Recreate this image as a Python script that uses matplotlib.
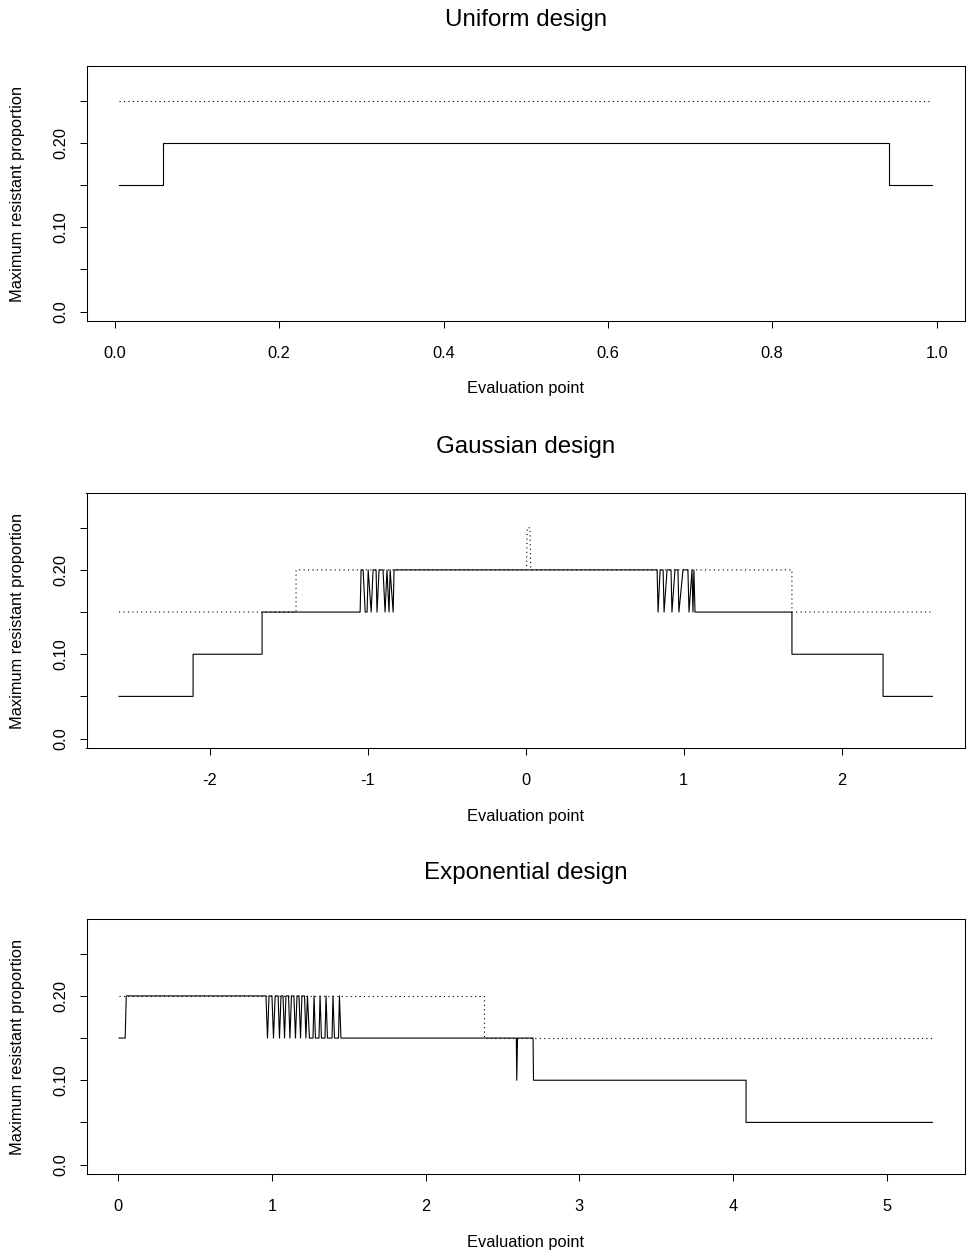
import matplotlib
matplotlib.use("Agg")
import matplotlib.pyplot as plt
import numpy as np

plt.rcParams['font.family'] = ['Liberation Sans', 'DejaVu Sans']
plt.rcParams['axes.unicode_minus'] = False

# ---- data: evaluation points (x) and maximum resistant proportion (y) ----
# Uniform design
unif_solid_x = [0.005, 0.059, 0.059, 0.942, 0.942, 0.995]
unif_solid_y = [0.15, 0.15, 0.20, 0.20, 0.15, 0.15]
unif_dot_x = [0.005, 0.995]
unif_dot_y = [0.25, 0.25]

# Gaussian design
gaus_solid_x = [-2.576, -2.107, -2.107, -1.670, -1.670, -1.049,
                -1.043, -1.030, -1.017, -1.005, -0.998, -0.979, -0.967, -0.948,
                -0.942, -0.929, -0.904, -0.891, -0.879, -0.866, -0.859, -0.840,
                -0.834,
                0.832, 0.838, 0.851, 0.870, 0.876, 0.895, 0.920, 0.926, 0.945,
                0.964, 0.970, 0.996, 1.027, 1.034, 1.053, 1.059, 1.065, 1.072,
                1.686, 1.686, 2.263, 2.263, 2.576]
gaus_solid_y = [0.05, 0.05, 0.10, 0.10, 0.15, 0.15,
                0.20, 0.20, 0.15, 0.15, 0.20, 0.15, 0.20, 0.20,
                0.15, 0.20, 0.20, 0.15, 0.20, 0.15, 0.20, 0.15,
                0.20,
                0.20, 0.15, 0.20, 0.20, 0.15, 0.20, 0.20, 0.15, 0.20,
                0.20, 0.15, 0.20, 0.20, 0.15, 0.20, 0.15, 0.20, 0.15,
                0.15, 0.10, 0.10, 0.05, 0.05]
gaus_dot_x = [-2.576, -1.455, -1.455, 0.005, 0.009, 0.027, 0.031, 1.686, 1.686, 2.576]
gaus_dot_y = [0.15, 0.15, 0.20, 0.20, 0.25, 0.25, 0.20, 0.20, 0.15, 0.15]

# Exponential design
expo_solid_x = [0.005, 0.045, 0.052, 0.961,
                0.971, 0.981, 1.000, 1.010, 1.021, 1.040, 1.049, 1.059,
                1.072, 1.082, 1.091, 1.108, 1.117, 1.127, 1.143, 1.153, 1.163,
                1.176, 1.186, 1.195, 1.212, 1.221, 1.231, 1.244,
                1.267, 1.274, 1.283, 1.306, 1.313, 1.322, 1.345, 1.352, 1.361,
                1.391, 1.397, 1.407, 1.433, 1.439, 1.449,
                2.590, 2.593, 2.598, 2.699, 2.702, 4.085, 4.085, 5.298]
expo_solid_y = [0.15, 0.15, 0.20, 0.20,
                0.15, 0.20, 0.20, 0.15, 0.20, 0.20, 0.15, 0.20,
                0.20, 0.15, 0.20, 0.20, 0.15, 0.20, 0.20, 0.15, 0.20,
                0.20, 0.15, 0.20, 0.20, 0.15, 0.20, 0.15,
                0.15, 0.20, 0.15, 0.15, 0.20, 0.15, 0.15, 0.20, 0.15,
                0.15, 0.20, 0.15, 0.15, 0.20, 0.15,
                0.15, 0.10, 0.15, 0.15, 0.10, 0.10, 0.05, 0.05]
expo_dot_x = [0.005, 2.380, 2.380, 5.298]
expo_dot_y = [0.20, 0.20, 0.15, 0.15]

panels = [
    ("Uniform design", unif_solid_x, unif_solid_y, unif_dot_x, unif_dot_y,
     [0.0, 0.2, 0.4, 0.6, 0.8, 1.0], ["0.0", "0.2", "0.4", "0.6", "0.8", "1.0"]),
    ("Gaussian design", gaus_solid_x, gaus_solid_y, gaus_dot_x, gaus_dot_y,
     [-2, -1, 0, 1, 2], ["-2", "-1", "0", "1", "2"]),
    ("Exponential design", expo_solid_x, expo_solid_y, expo_dot_x, expo_dot_y,
     [0, 1, 2, 3, 4, 5], ["0", "1", "2", "3", "4", "5"]),
]
y_ticks = [0.0, 0.05, 0.10, 0.15, 0.20, 0.25]
y_labels = ["0.0", "", "0.10", "", "0.20", ""]

W, H = 968, 1254
fig = plt.figure(figsize=(W / 100, H / 100), dpi=100)
fig.set_facecolor('white')

left, right = 86.5, 965
tops = [66, 493, 919]
height = 255

for (title, sx, sy, dx, dy, xt, xl), top in zip(panels, tops):
    ax = fig.add_axes([left / W, 1 - (top + height) / H, (right - left) / W, height / H])
    ax.plot(sx, sy, color='black', lw=0.8)
    ax.plot(dx, dy, color='black', lw=0.8, linestyle=(0, (1, 3)))

    allx = np.concatenate([sx, dx])
    lo, hi = allx.min(), allx.max()
    ext = 0.04 * (hi - lo)
    ax.set_xlim(lo - ext, hi + ext)
    ax.set_ylim(0 - 0.04 * 0.28, 0.28 + 0.04 * 0.28)

    ax.set_xticks(xt)
    ax.set_xticklabels(xl, fontsize=11.8)
    ax.set_yticks(y_ticks)
    ax.set_yticklabels(y_labels, fontsize=11.8, rotation=90, va='center')
    ax.tick_params(direction='out', length=5, width=0.75, color='black')
    ax.tick_params(axis='x', pad=13)
    ax.tick_params(axis='y', pad=8)
    for s in ax.spines.values():
        s.set_linewidth(0.75)
        s.set_color('black')

    ax.text(0.5, 1 + 46 / height, title, transform=ax.transAxes,
            ha='center', va='center', fontsize=17.4)
    ax.text(0.5, -68 / height, "Evaluation point", transform=ax.transAxes,
            ha='center', va='center', fontsize=11.8)
    ax.text(-68.5 / (right - left), 0.5, "Maximum resistant proportion",
            transform=ax.transAxes, ha='center', va='center', rotation=90,
            fontsize=11.8)

fig.savefig("out.png", dpi=100)
